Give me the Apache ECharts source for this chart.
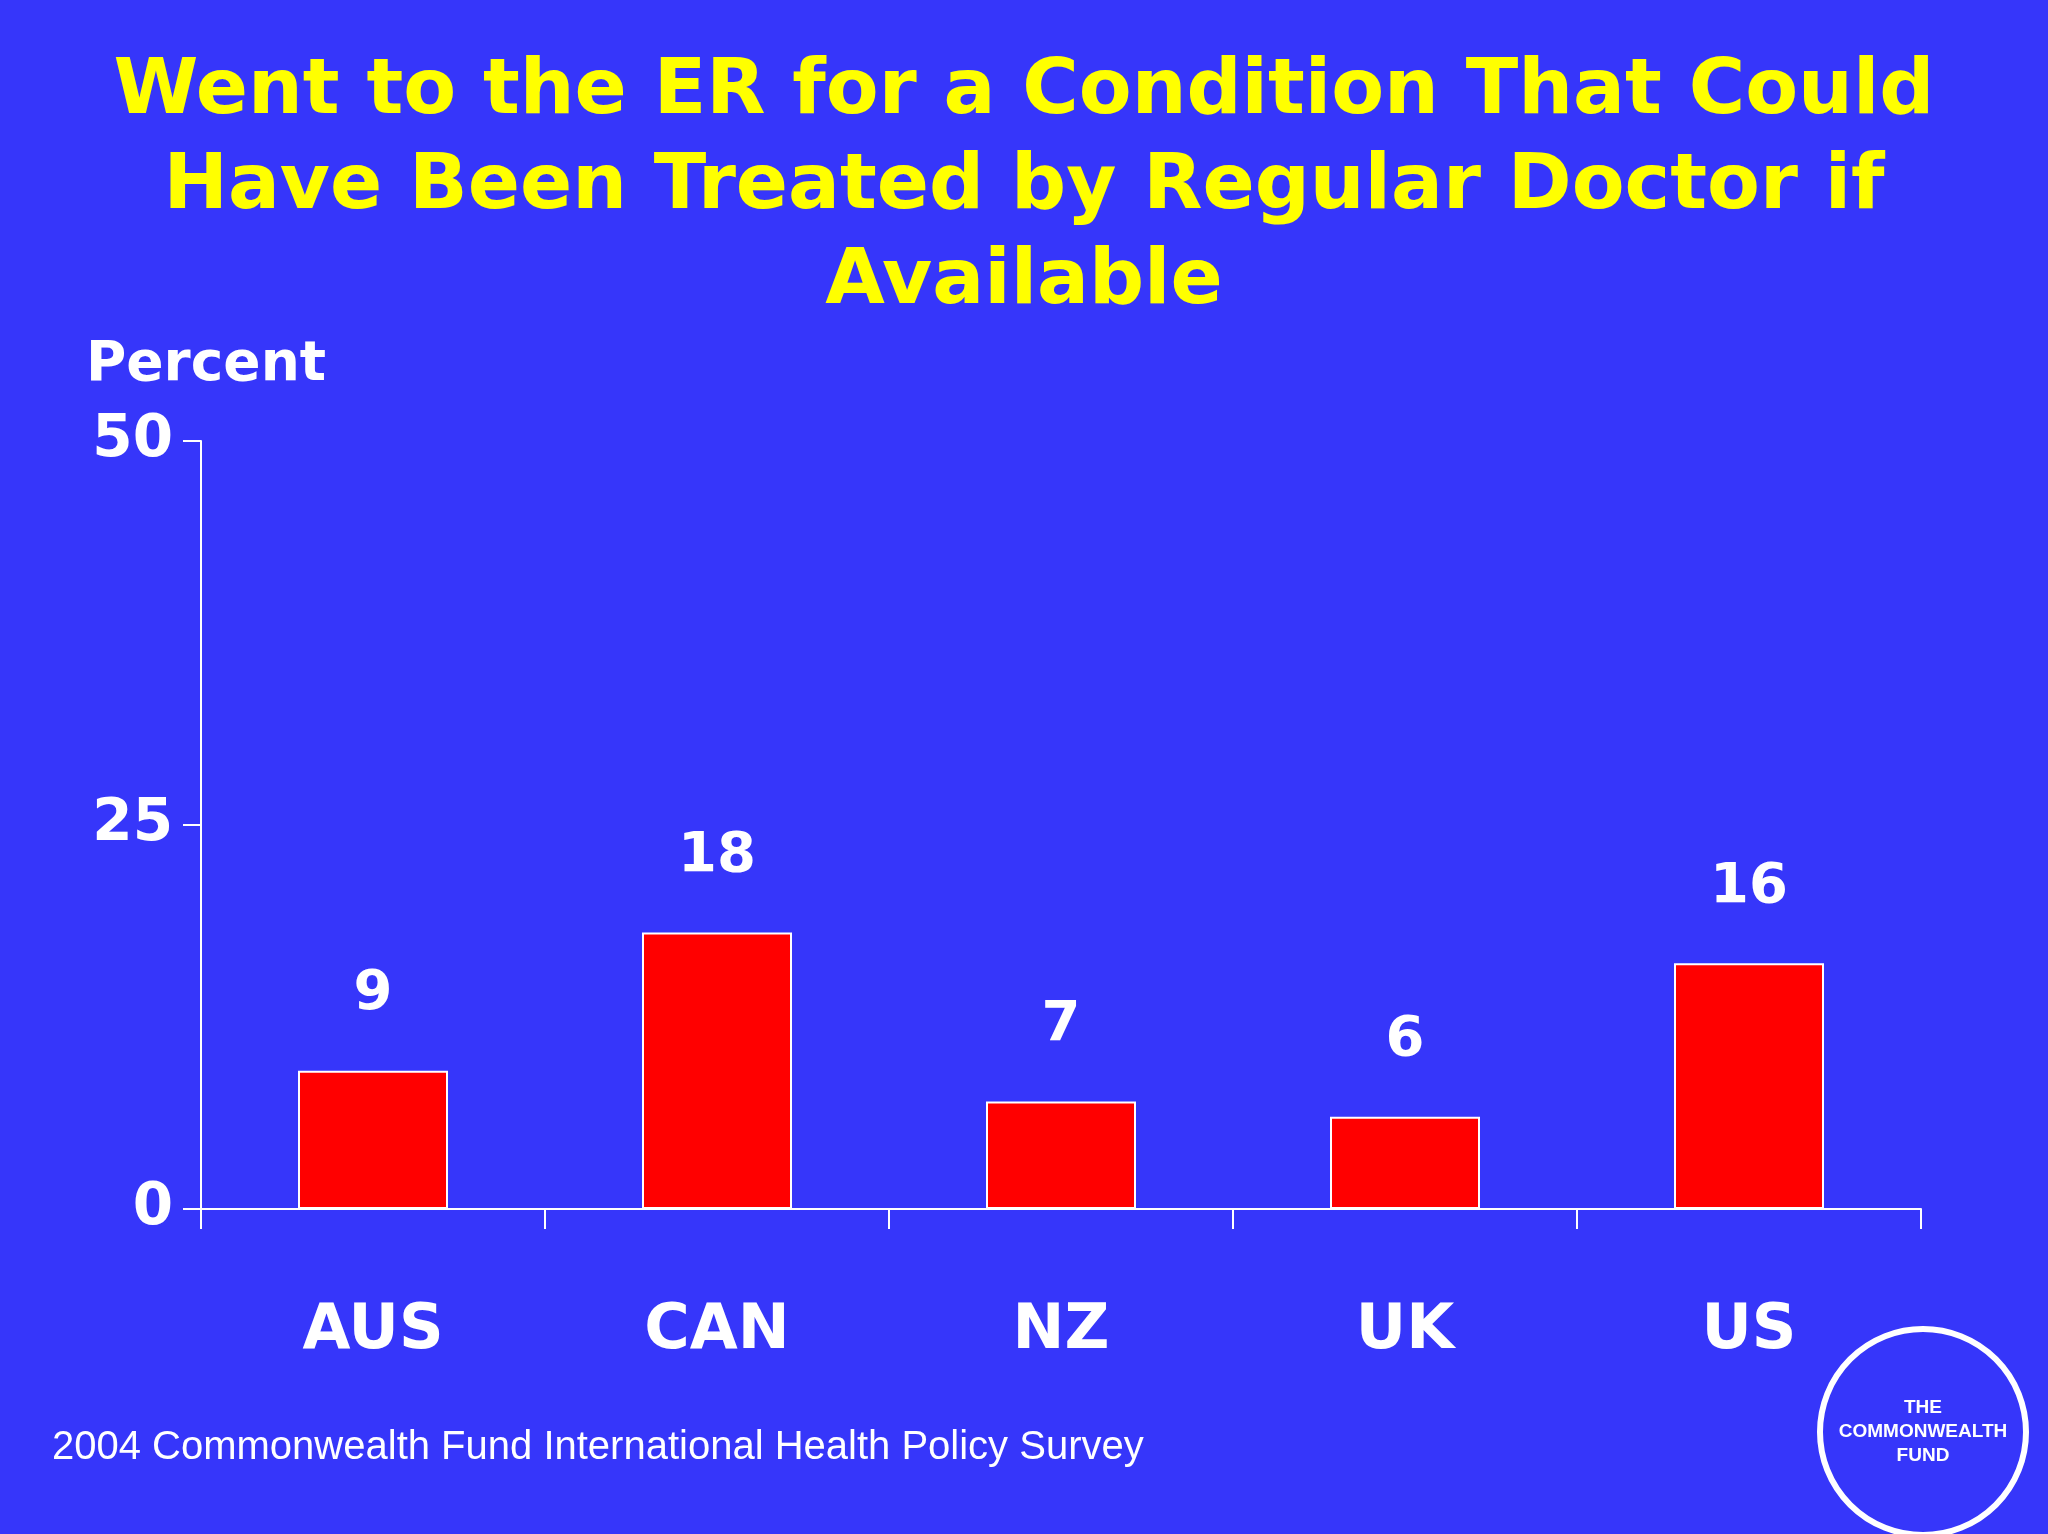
<!DOCTYPE html>
<html><head><meta charset="utf-8">
<script src="https://cdn.jsdelivr.net/npm/echarts@6/dist/echarts.min.js"></script>
<style>html,body{margin:0;padding:0;background:#3636fa}#main{width:2048px;height:1534px}</style>
</head><body><div id="main"></div>
<script>
var categories = ['AUS', 'CAN', 'NZ', 'UK', 'US'];
var values = [9, 18, 7, 6, 16];
var yTicks = [0, 25, 50];

var myChart = echarts.init(document.getElementById('main'));
var option = {
  backgroundColor: '#3636fa',
  title: {
    text: 'Went to the ER for a Condition That Could\nHave Been Treated by Regular Doctor if\nAvailable',
    left: 'center',
    top: 40,
    textStyle: { color: '#ffff00', fontSize: 77, fontWeight: 'bold', fontFamily: 'DejaVu Sans', lineHeight: 95 }
  },
  graphic: [
    { type: 'text', left: 86, top: 338, style: { text: 'Percent', fill: '#fff', font: 'bold 55px "DejaVu Sans"' } },
    { type: 'text', left: 52, top: 1428, style: { text: '2004 Commonwealth Fund International Health Policy Survey', fill: '#fff', font: '40px "Liberation Sans"' } },
    { type: 'circle', shape: { cx: 1923, cy: 1432, r: 103 }, style: { fill: 'none', stroke: '#fff', lineWidth: 6 } },
    { type: 'text', x: 1923, y: 1432, style: { text: 'THE\nCOMMONWEALTH\nFUND', fill: '#fff', font: 'bold 19px "Liberation Sans"', align: 'center', verticalAlign: 'middle', lineHeight: 24 } }
  ],
  grid: { left: 201, right: 127, top: 441, bottom: 325 },
  xAxis: {
    type: 'category',
    data: categories,
    axisLine: { lineStyle: { color: '#fff', width: 2 } },
    axisTick: { show: true, length: 20, lineStyle: { color: '#fff', width: 2 } },
    axisLabel: { color: '#fff', fontSize: 62, fontWeight: 'bold', fontFamily: 'DejaVu Sans', margin: 92 }
  },
  yAxis: {
    type: 'value',
    min: 0, max: 50, interval: 25,
    axisLine: { show: true, lineStyle: { color: '#fff', width: 2 } },
    axisTick: { show: true, length: 18, lineStyle: { color: '#fff', width: 2 } },
    splitLine: { show: false },
    axisLabel: {
      color: '#fff', fontSize: 58, fontWeight: 'bold', fontFamily: 'DejaVu Sans', margin: 28,
      formatter: function (v) { return yTicks.indexOf(v) >= 0 ? String(v) : ''; }
    }
  },
  series: [{
    type: 'bar',
    data: values,
    barWidth: 150,
    itemStyle: { color: '#ff0000', borderColor: '#fff', borderWidth: 2 },
    label: { show: true, position: 'top', distance: 48, color: '#fff', fontSize: 56, fontWeight: 'bold', fontFamily: 'DejaVu Sans' }
  }]
};
myChart.setOption(option);
</script></body></html>
